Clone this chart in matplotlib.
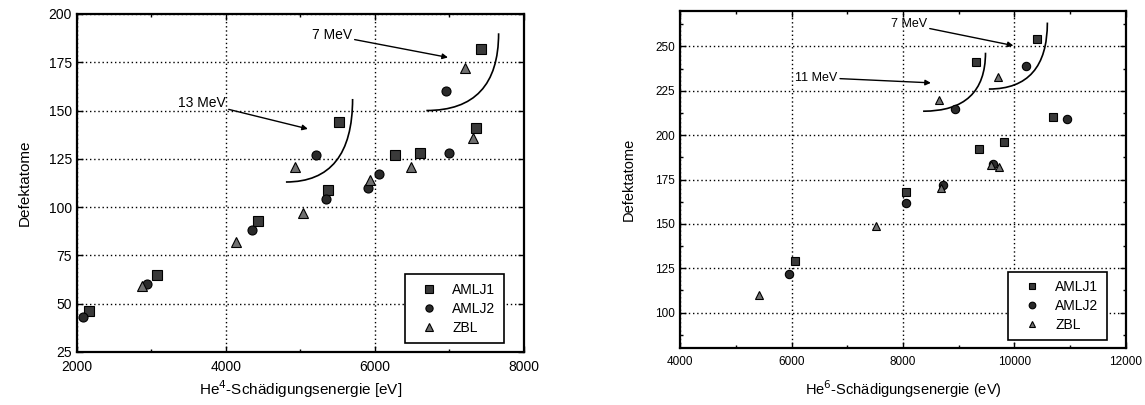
import matplotlib.pyplot as plt
from matplotlib.path import Path
from matplotlib.patches import PathPatch
from matplotlib.ticker import MultipleLocator

plt.rcParams['font.family'] = ['Liberation Sans', 'DejaVu Sans']

# He-4 simulations
he4_amlj1_x = [2165, 3070, 4430, 5370, 5515, 6270, 6600, 7360, 7420]
he4_amlj1_y = [46, 65, 93, 109, 144, 127, 128, 141, 182]
he4_amlj2_x = [2080, 2940, 4350, 5210, 5340, 5910, 6060, 6950, 7000]
he4_amlj2_y = [43, 60, 88, 127, 104, 110, 117, 160, 128]
he4_zbl_x = [2870, 4130, 4925, 5040, 5940, 6480, 7210, 7310]
he4_zbl_y = [59, 82, 121, 97, 114, 121, 172, 136]

# He-6 simulations
he6_amlj1_x = [6065, 8050, 9310, 9360, 9815, 10400, 10685]
he6_amlj1_y = [129, 168, 241, 192, 196, 254, 210]
he6_amlj2_x = [5950, 8050, 8720, 8940, 9620, 10200, 10950]
he6_amlj2_y = [122, 162, 172, 215, 184, 239, 209]
he6_zbl_x = [5420, 7510, 8680, 8640, 9580, 9720, 9700]
he6_zbl_y = [110, 149, 170, 220, 183, 182, 233]

# energy groups: (label, text anchor, arrow tip, arc start, arc end)
he4_groups = [
    ('13 MeV', (4000, 154), (5100, 140.5), (4805, 113), (5700, 156)),
    ('7 MeV', (5690, 189), (6980, 177.5), (6690, 150), (7660, 190)),
]
he6_groups = [
    ('11 MeV', (6820, 232.5), (8500, 229.5), (8360, 213.5), (9480, 246.5)),
    ('7 MeV', (8430, 262.5), (9980, 250.5), (9540, 226), (10590, 263.5)),
]

fig = plt.figure(figsize=(11.45, 4.05), dpi=100)
ax1 = fig.add_axes([0.0672, 0.1309, 0.3904, 0.8346])
ax2 = fig.add_axes([0.5939, 0.1407, 0.3895, 0.8321])


def scatter_series(ax, series, ms):
    styles = [('s', '#3a3a3a', 'AMLJ1'), ('o', '#2a2a2a', 'AMLJ2'),
              ('^', '#707070', 'ZBL')]
    for (xs, ys), (m, fc, lab) in zip(series, styles):
        ax.plot(xs, ys, linestyle='none', marker=m, markersize=ms,
                markerfacecolor=fc, markeredgecolor='black',
                markeredgewidth=0.8, label=lab, zorder=3)


def draw_groups(ax, groups, fs):
    for label, txt, tip, a0, a1 in groups:
        ax.annotate(label, xy=tip, xytext=txt, fontsize=fs,
                    ha='right', va='center',
                    arrowprops=dict(arrowstyle='-|>', color='black', lw=1.0,
                                    mutation_scale=8, shrinkA=0, shrinkB=0))
        # curved bracket around the group
        verts = [a0, (a1[0], a0[1]), a1]
        path = Path(verts, [Path.MOVETO, Path.CURVE3, Path.CURVE3])
        ax.add_patch(PathPatch(path, facecolor='none', edgecolor='black',
                               lw=1.2, zorder=2))


def style_axes(ax, fs):
    for s in ax.spines.values():
        s.set_linewidth(1.6)
    ax.tick_params(which='both', direction='in', top=True, right=True,
                   labelsize=fs, width=1.0)
    ax.tick_params(which='major', length=4)
    ax.tick_params(which='minor', length=2.5)
    ax.tick_params(axis='x', pad=6)
    ax.grid(True, which='major', linestyle=(0, (1, 2)), color='black',
            linewidth=1.0)
    ax.set_axisbelow(True)


def add_legend(ax, anchor):
    leg = ax.legend(loc='lower right', bbox_to_anchor=anchor,
                    borderaxespad=0, fontsize=10, frameon=True,
                    fancybox=False, edgecolor='black', markerscale=0.8,
                    handlelength=2.2, handletextpad=0.6, borderpad=0.6,
                    labelspacing=0.35, framealpha=1)
    leg.get_frame().set_linewidth(1.2)


# left panel
scatter_series(ax1, [(he4_amlj1_x, he4_amlj1_y), (he4_amlj2_x, he4_amlj2_y),
                     (he4_zbl_x, he4_zbl_y)], 6.5)
draw_groups(ax1, he4_groups, 10)
ax1.set_xlim(2000, 8000)
ax1.set_ylim(25, 200)
ax1.xaxis.set_major_locator(MultipleLocator(2000))
ax1.xaxis.set_minor_locator(MultipleLocator(1000))
ax1.yaxis.set_major_locator(MultipleLocator(25))
style_axes(ax1, 10)
ax1.set_xlabel('He$^{4}$-Schädigungsenergie [eV]', fontsize=11, labelpad=3)
ax1.set_ylabel('Defektatome', fontsize=11, labelpad=12)
add_legend(ax1, (0.955, 0.027))

# right panel
scatter_series(ax2, [(he6_amlj1_x, he6_amlj1_y), (he6_amlj2_x, he6_amlj2_y),
                     (he6_zbl_x, he6_zbl_y)], 6.0)
draw_groups(ax2, he6_groups, 9)
ax2.set_xlim(4000, 12000)
ax2.set_ylim(80, 270)
ax2.xaxis.set_major_locator(MultipleLocator(2000))
ax2.xaxis.set_minor_locator(MultipleLocator(1000))
ax2.yaxis.set_major_locator(MultipleLocator(25))
ax2.yaxis.set_minor_locator(MultipleLocator(12.5))
style_axes(ax2, 8.5)
ax2.set_xlabel('He$^{6}$-Schädigungsenergie (eV)', fontsize=10.5, labelpad=7)
ax2.set_ylabel('Defektatome', fontsize=10.5, labelpad=14)
add_legend(ax2, (0.957, 0.024))

fig.savefig('out.png', dpi=100)
